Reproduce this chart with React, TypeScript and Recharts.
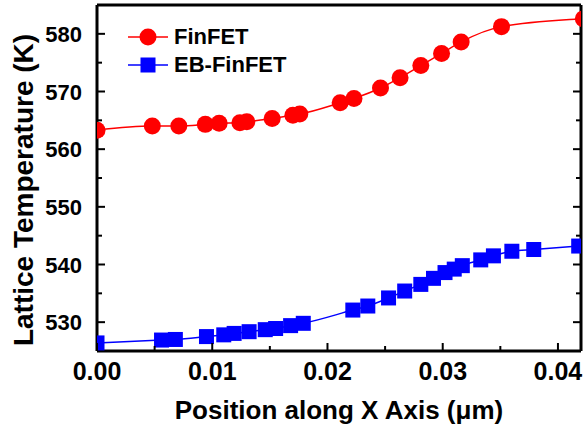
import React from "react";
import { ComposedChart, Line, XAxis, YAxis, Label } from "recharts";

const finfetPos = [0, 0.0048, 0.0071, 0.0094, 0.0106, 0.0124, 0.013, 0.0152, 0.017, 0.0176, 0.0211, 0.0223, 0.0246, 0.0263, 0.0281, 0.0299, 0.0316, 0.0351, 0.0422];
const finfetTemp = [563.3, 564.0, 564.0, 564.3, 564.5, 564.6, 564.75, 565.3, 565.9, 566.1, 568.05, 568.8, 570.6, 572.4, 574.5, 576.6, 578.6, 581.25, 582.6];

const ebPos = [0, 0.0056, 0.0068, 0.0095, 0.011, 0.0119, 0.0132, 0.0146, 0.0155, 0.0168, 0.0179, 0.0222, 0.0235, 0.0253, 0.0267, 0.0281, 0.0292, 0.0302, 0.031, 0.0317, 0.0333, 0.0344, 0.036, 0.0379, 0.0418];
const ebTemp = [526.4, 526.9, 527.0, 527.5, 527.8, 528.05, 528.35, 528.7, 528.9, 529.4, 529.8, 532.1, 532.8, 534.2, 535.4, 536.55, 537.6, 538.6, 539.2, 539.8, 540.8, 541.5, 542.3, 542.6, 543.2];

const xTicks = [0, 0.005, 0.01, 0.015, 0.02, 0.025, 0.03, 0.035, 0.04];
const yTicks = [530, 535, 540, 545, 550, 555, 560, 565, 570, 575, 580];

const finfetData = finfetPos.map((x, i) => ({ x, t: finfetTemp[i] }));
const ebData = ebPos.map((x, i) => ({ x, t: ebTemp[i] }));

const FONT = "'Liberation Sans', Arial, sans-serif";
const RED = "#ff0000";
const BLUE = "#0000ff";

const isMajorX = (v: number) => Math.abs(v * 100 - Math.round(v * 100)) < 1e-6;
const isMajorY = (v: number) => v % 10 === 0;

const BottomTick = (props: any) => {
  const { x, y, payload } = props;
  const major = isMajorX(payload.value);
  return (
    <g>
      <line x1={x} x2={x} y1={y} y2={y - (major ? 8 : 5)} stroke="#000" strokeWidth={2} />
      {major && (
        <text x={x} y={y + 29} textAnchor="middle" fontFamily={FONT} fontWeight="bold" fontSize={25} fill="#000">
          {payload.value.toFixed(2)}
        </text>
      )}
    </g>
  );
};

const LeftTick = (props: any) => {
  const { x, y, payload } = props;
  const major = isMajorY(payload.value);
  return (
    <g>
      <line x1={x} x2={x + (major ? 8 : 5)} y1={y} y2={y} stroke="#000" strokeWidth={2} />
      {major && (
        <text x={x - 15} y={y + 8} textAnchor="end" fontFamily={FONT} fontWeight="bold" fontSize={22} fill="#000">
          {payload.value}
        </text>
      )}
    </g>
  );
};

const RightTick = (props: any) => {
  const { x, y, payload } = props;
  const major = isMajorY(payload.value);
  return <line x1={x} x2={x - (major ? 8 : 5)} y1={y} y2={y} stroke="#000" strokeWidth={2} />;
};

const SquareDot = (props: any) => {
  const { cx, cy, index } = props;
  if (cx == null || cy == null) return <g key={`sq-${index}`} />;
  return <rect key={`sq-${index}`} x={cx - 7.5} y={cy - 7.5} width={15} height={15} fill={BLUE} />;
};

const legendItems = [
  { name: "FinFET", color: RED, shape: "circle" },
  { name: "EB-FinFET", color: BLUE, shape: "square" },
];

const LegendBox = () => (
  <div style={{ position: "absolute", left: 126, top: 23, fontFamily: FONT, fontWeight: "bold", fontSize: 22, lineHeight: "28px" }}>
    {legendItems.map((it) => (
      <div key={it.name} style={{ display: "flex", alignItems: "center", height: 28 }}>
        <svg width={44} height={20} style={{ marginRight: 4 }}>
          <line x1={2} x2={42} y1={10} y2={10} stroke={it.color} strokeWidth={1.5} />
          {it.shape === "circle" ? (
            <circle cx={22} cy={10} r={8.5} fill={it.color} />
          ) : (
            <rect x={14.5} y={2.5} width={15} height={15} fill={it.color} />
          )}
        </svg>
        <span>{it.name}</span>
      </div>
    ))}
  </div>
);

export default function App() {
  return (
    <div style={{ position: "absolute", left: 0, top: 0, width: 586, height: 432, background: "#fff" }}>
      <ComposedChart width={586} height={432} margin={{ top: 4, right: 4, left: 0, bottom: 0 }}>
        <XAxis
          xAxisId="b"
          type="number"
          dataKey="x"
          domain={[0, 0.042]}
          allowDataOverflow
          ticks={xTicks}
          interval={0}
          tickSize={0}
          tickMargin={0}
          tickLine={false}
          tick={<BottomTick />}
          axisLine={{ stroke: "#000", strokeWidth: 3 }}
          height={81}
        >
          <Label
            content={(p: any) => {
              const vb = p.viewBox;
              return (
                <text x={vb.x + vb.width / 2} y={vb.y + 68} textAnchor="middle" fontFamily={FONT} fontWeight="bold" fontSize={26} fill="#000">
                  Position along X Axis (μm)
                </text>
              );
            }}
          />
        </XAxis>
        <XAxis
          xAxisId="t"
          orientation="top"
          type="number"
          dataKey="x"
          domain={[0, 0.042]}
          allowDataOverflow
          tick={false}
          tickLine={false}
          axisLine={{ stroke: "#000", strokeWidth: 3 }}
          height={1}
        />
        <YAxis
          yAxisId="l"
          type="number"
          domain={[525, 585]}
          allowDataOverflow
          ticks={yTicks}
          interval={0}
          tickSize={0}
          tickMargin={0}
          tickLine={false}
          tick={<LeftTick />}
          axisLine={{ stroke: "#000", strokeWidth: 3 }}
          width={97}
        >
          <Label
            content={(p: any) => {
              const vb = p.viewBox;
              const cx = 33;
              const cy = vb.y + vb.height / 2 + 12;
              return (
                <text x={cx} y={cy} transform={`rotate(-90, ${cx}, ${cy})`} textAnchor="middle" fontFamily={FONT} fontWeight="bold" fontSize={28} fill="#000">
                  Lattice Temperature (K)
                </text>
              );
            }}
          />
        </YAxis>
        <YAxis
          yAxisId="r"
          orientation="right"
          type="number"
          domain={[525, 585]}
          allowDataOverflow
          ticks={yTicks}
          interval={0}
          tickSize={0}
          tickMargin={0}
          tickLine={false}
          tick={<RightTick />}
          axisLine={{ stroke: "#000", strokeWidth: 3 }}
          width={1}
        />
        <Line
          xAxisId="b"
          yAxisId="l"
          data={finfetData}
          dataKey="t"
          name="FinFET"
          type="monotone"
          stroke={RED}
          strokeWidth={1.5}
          dot={{ r: 8.5, fill: RED, stroke: RED, strokeWidth: 0 }}
          activeDot={false}
          isAnimationActive={false}
        />
        <Line
          xAxisId="b"
          yAxisId="l"
          data={ebData}
          dataKey="t"
          name="EB-FinFET"
          type="monotone"
          stroke={BLUE}
          strokeWidth={1.5}
          dot={SquareDot}
          activeDot={false}
          isAnimationActive={false}
        />
      </ComposedChart>
      <LegendBox />
    </div>
  );
}
